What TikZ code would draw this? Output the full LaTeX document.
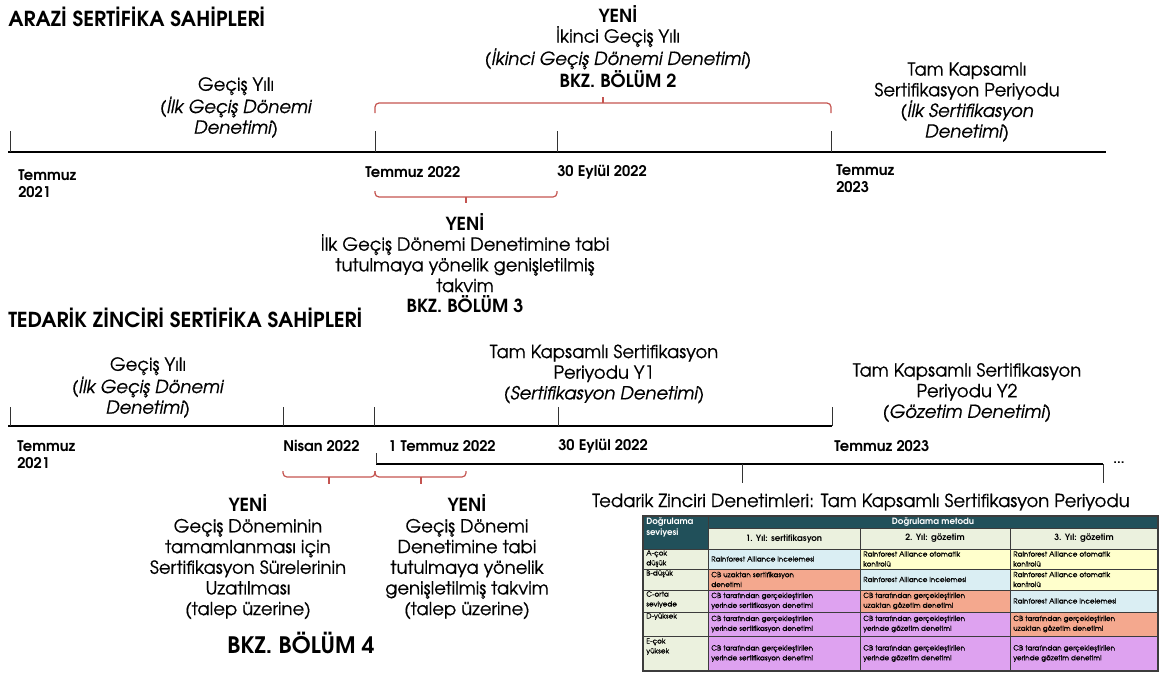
\documentclass[tikz,border=0pt]{standalone}
\usepackage{fontspec}
\setmainfont{texgyreadventor}[Extension=.otf,UprightFont=*-regular,BoldFont=*-bold,ItalicFont=*-italic,BoldItalicFont=*-bolditalic,UprightFeatures={FakeBold=0.6},ItalicFeatures={FakeBold=0.6}]
\definecolor{bred}{RGB}{196,84,80}
\definecolor{teal}{RGB}{33,80,90}
\definecolor{lgreen}{RGB}{235,241,222}
\definecolor{lblue}{RGB}{218,238,243}
\definecolor{lyellow}{RGB}{255,255,204}
\definecolor{salmon}{RGB}{244,168,142}
\definecolor{lpurple}{RGB}{222,162,240}
\definecolor{tgrid}{RGB}{60,60,60}
\newcommand\tcell[7]{%
  \filldraw[fill=#5,draw=tgrid,line width=0.5pt] (#1,#2) rectangle (#3,#4);
  \node[cellt,anchor=west] (#6) at ({#1+3},{(#2+#4)/2}) {#7};}
\begin{document}
\begin{tikzpicture}[x=0.75pt,y=-0.75pt,
  lbl/.style={align=center,inner sep=0pt,font=\fontsize{13.5}{15.5}\selectfont},
  datel/.style={anchor=west,align=left,inner sep=0pt,font=\bfseries\fontsize{11}{13}\selectfont},
  ttl/.style={anchor=west,inner sep=0pt,font=\bfseries\fontsize{15.5}{17}\selectfont},
  tline/.style={line width=1.4pt},
  tick/.style={line width=0.6pt,draw=black!80},
  brk/.style={draw=bred,line width=0.9pt,rounded corners=3pt},
  cellt/.style={inner sep=0pt,align=left,font=\fontsize{5.4}{7.4}\selectfont},
  hdrt/.style={inner sep=0pt,align=center,font=\bfseries\fontsize{6.5}{8}\selectfont}]
\useasboundingbox (0,0) rectangle (1161,678);

% ---------- ARAZI ----------
\node[ttl] (t1) at (8,17) {ARAZİ SERTİFİKA SAHİPLERİ};
\draw[tline] (8,152) -- (1106,152);
\draw[tick] (10,131) -- (10,152);
\draw[tick] (375,131) -- (375,152);
\draw[tick] (557,131) -- (557,152);
\draw[tick] (831,131) -- (831,152);

\node[lbl] (a1) at (236,107.5) {Geçiş Yılı\\\textit{(İlk Geçiş Dönemi}\\\textit{Denetimi)}};
\node[lbl] (a2) at (618,46.5) {\textbf{YENİ}\\İkinci Geçiş Yılı\\\textit{(İkinci Geçiş Dönemi Denetimi)}\\\textbf{BKZ. BÖLÜM 2}};
\node[lbl] (a3) at (967,102) {Tam Kapsamlı\\Sertifikasyon Periyodu\\\textit{(İlk Sertifikasyon}\\\textit{Denetimi)}};
\node[lbl] (a4) at (465,263) {\textbf{YENİ}\\İlk Geçiş Dönemi Denetimine tabi\\tutulmaya yönelik genişletilmiş\\takvim\\\textbf{BKZ. BÖLÜM 3}};

\node[datel] (d1) at (18,184) {Temmuz\\2021};
\node[datel] (d2) at (365,172) {Temmuz 2022};
\node[datel] (d3) at (557,172) {30 Eylül 2022};
\node[datel] (d4) at (836,178.5) {Temmuz\\2023};

\draw[brk] (375,113) -- (375,103) -- (831,103) -- (831,113);
\draw[draw=bred,line width=0.9pt] (603,103) -- (603,97);
\draw[brk] (375,191) -- (375,197) -- (557,197) -- (557,191);
\draw[draw=bred,line width=0.9pt] (466,197) -- (466,203);

% ---------- TEDARIK ----------
\node[ttl] (t2) at (8,318) {TEDARİK ZİNCİRİ SERTİFİKA SAHİPLERİ};
\draw[tline] (8,426) -- (832,426);
\draw[tick] (10,407) -- (10,426);
\draw[tick] (283,407) -- (283,426);
\draw[tick] (374,407) -- (374,426);
\draw[tick] (558,407) -- (558,426);
\draw[tick] (832,407) -- (832,426);

\draw[tline] (376,464) -- (1103,464);
\draw[tick] (376,453) -- (376,464);
\draw[tick] (742,464) -- (742,483);
\draw[tick] (1103,464) -- (1103,483);
\node[inner sep=0pt,font=\bfseries\fontsize{10}{11}\selectfont] (dots) at (1119,463) {...};

\node[lbl] (b1) at (148,387.5) {Geçiş Yılı\\\textit{(İlk Geçiş Dönemi}\\\textit{Denetimi)}};
\node[lbl] (b2) at (604,374) {Tam Kapsamlı Sertifikasyon\\Periyodu Y1\\\textit{(Sertifikasyon Denetimi)}};
\node[lbl] (b3) at (967,392.5) {Tam Kapsamlı Sertifikasyon\\Periyodu Y2\\\textit{(Gözetim Denetimi)}};

\node[datel] (e1) at (17,454.5) {Temmuz\\2021};
\node[datel] (e2) at (283,446) {Nisan 2022};
\node[datel] (e3) at (388,446) {1 Temmuz 2022};
\node[datel] (e4) at (558,446) {30 Eylül 2022};
\node[datel] (e5) at (834,446) {Temmuz 2023};

\draw[brk] (283,471) -- (283,477) -- (375,477) -- (375,471);
\draw[draw=bred,line width=0.9pt] (329,477) -- (329,484);
\draw[brk] (375,471) -- (375,477) -- (466,477) -- (466,471);
\draw[draw=bred,line width=0.9pt] (421,477) -- (421,484);

\node[lbl] (c1) at (248,557) {\textbf{YENİ}\\Geçiş Döneminin\\tamamlanması için\\Sertifikasyon Sürelerinin\\Uzatılması\\(talep üzerine)};
\node[lbl] (c2) at (467,557) {\textbf{YENİ}\\Geçiş Dönemi\\Denetimine tabi\\tutulmaya yönelik\\genişletilmiş takvim\\(talep üzerine)};
\node[inner sep=0pt,font=\bfseries\fontsize{17}{19}\selectfont] (c3) at (301,643) {BKZ. BÖLÜM 4};

\node[lbl] (tz) at (861,502) {Tedarik Zinciri Denetimleri: Tam Kapsamlı Sertifikasyon Periyodu};

% ---------- TABLE ----------
\filldraw[fill=teal,draw=tgrid,line width=0.5pt] (643,516) rectangle (708,549);
\node[hdrt,anchor=north west,align=left,text=white] (h0) at (646,518) {Doğrulama\\seviyesi};
\filldraw[fill=teal,draw=tgrid,line width=0.5pt] (708,516) rectangle (1158,528);
\node[hdrt,text=white] (hm) at (933,522) {Doğrulama metodu};
\filldraw[fill=lgreen,draw=tgrid,line width=0.5pt] (708,528) rectangle (860,549);
\node[hdrt] (h1) at (784,538.5) {1. Yıl: sertifikasyon};
\filldraw[fill=lgreen,draw=tgrid,line width=0.5pt] (860,528) rectangle (1010,549);
\node[hdrt] (h2) at (935,538.5) {2. Yıl: gözetim};
\filldraw[fill=lgreen,draw=tgrid,line width=0.5pt] (1010,528) rectangle (1158,549);
\node[hdrt] (h3) at (1084,538.5) {3. Yıl: gözetim};

\filldraw[fill=lgreen,draw=tgrid,line width=0.5pt] (643,549) rectangle (708,569);
\node[cellt,anchor=north west] (la) at (646,550) {A-çok\\düşük};
\filldraw[fill=lgreen,draw=tgrid,line width=0.5pt] (643,569) rectangle (708,590);
\node[cellt,anchor=north west] (lb) at (646,570) {B-düşük};
\filldraw[fill=lgreen,draw=tgrid,line width=0.5pt] (643,590) rectangle (708,612);
\node[cellt,anchor=north west] (lc) at (646,591) {C-orta\\seviyede};
\filldraw[fill=lgreen,draw=tgrid,line width=0.5pt] (643,612) rectangle (708,636);
\node[cellt,anchor=north west] (ld) at (646,613) {D-yüksek};
\filldraw[fill=lgreen,draw=tgrid,line width=0.5pt] (643,636) rectangle (708,671);
\node[cellt,anchor=north west] (le) at (646,638) {E-çok\\yüksek};

\tcell{708}{549}{860}{569}{lblue}{a1c}{Rainforest Alliance incelemesi}
\tcell{860}{549}{1010}{569}{lyellow}{a2c}{Rainforest Alliance otomatik\\kontrolü}
\tcell{1010}{549}{1158}{569}{lyellow}{a3c}{Rainforest Alliance otomatik\\kontrolü}
\tcell{708}{569}{860}{590}{salmon}{b1c}{CB uzaktan sertifikasyon\\denetimi}
\tcell{860}{569}{1010}{590}{lblue}{b2c}{Rainforest Alliance incelemesi}
\tcell{1010}{569}{1158}{590}{lyellow}{b3c}{Rainforest Alliance otomatik\\kontrolü}
\tcell{708}{590}{860}{612}{lpurple}{c1c}{CB tarafından gerçekleştirilen\\yerinde sertifikasyon denetimi}
\tcell{860}{590}{1010}{612}{salmon}{c2c}{CB tarafından gerçekleştirilen\\uzaktan gözetim denetimi}
\tcell{1010}{590}{1158}{612}{lblue}{c3c}{Rainforest Alliance incelemesi}
\tcell{708}{612}{860}{636}{lpurple}{d1c}{CB tarafından gerçekleştirilen\\yerinde sertifikasyon denetimi}
\tcell{860}{612}{1010}{636}{lpurple}{d2c}{CB tarafından gerçekleştirilen\\yerinde gözetim denetimi}
\tcell{1010}{612}{1158}{636}{salmon}{d3c}{CB tarafından gerçekleştirilen\\uzaktan gözetim denetimi}
\tcell{708}{636}{860}{671}{lpurple}{e1c}{CB tarafından gerçekleştirilen\\yerinde sertifikasyon denetimi}
\tcell{860}{636}{1010}{671}{lpurple}{e2c}{CB tarafından gerçekleştirilen\\yerinde gözetim denetimi}
\tcell{1010}{636}{1158}{671}{lpurple}{e3c}{CB tarafından gerçekleştirilen\\yerinde gözetim denetimi}
\draw[tgrid,line width=1pt] (643,516) rectangle (1158,671);
\end{tikzpicture}
\end{document}
